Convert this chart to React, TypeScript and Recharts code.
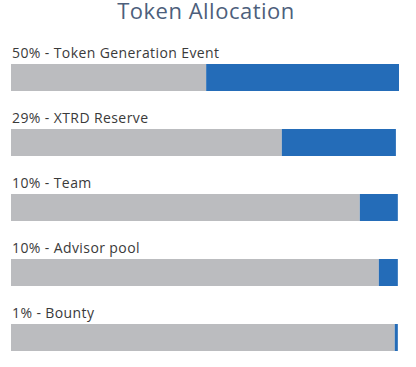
import { Bar, BarChart, LabelList, XAxis, YAxis } from "recharts";

const categories = ["Token Generation Event", "XTRD Reserve", "Team", "Advisor pool", "Bounty"];
const percentLabels = ["50%", "29%", "10%", "10%", "1%"];
// blue part as drawn, in % of the full track
const allocationShares = [49.7, 29.4, 9.8, 4.9, 0.8];
// the tracks do not all end at the same pixel
const trackTotals = [100, 99.2, 99.7, 99.7, 99.7];

const GRAY = "#bbbcbf";
const BLUE = "#246cb8";
const FONT = "'Open Sans', 'DejaVu Sans', sans-serif";

const data = categories.map((name, i) => ({
  name,
  label: `${percentLabels[i]} - ${name}`,
  share: allocationShares[i],
  rest: trackTotals[i] - allocationShares[i],
}));

function RowLabel(props: any) {
  const { x, y, value } = props;
  return (
    <text
      x={Number(x) + 1}
      y={Number(y) - 6}
      fill="#3a3a3a"
      fontSize={14}
      fontWeight={500}
      letterSpacing={0.4}
      fontFamily={FONT}
    >
      {value}
    </text>
  );
}

export default function App() {
  return (
    <div style={{ position: "absolute", left: 0, top: 0, width: 416, height: 367, background: "#fff" }}>
      <svg width={416} height={30} style={{ position: "absolute", left: 0, top: 0 }}>
        <text
          x={206}
          y={19}
          textAnchor="middle"
          fill="#4d5f7c"
          fontSize={22}
          letterSpacing={0.5}
          fontFamily={FONT}
        >
          Token Allocation
        </text>
      </svg>
      <BarChart
        width={416}
        height={367}
        data={data}
        layout="vertical"
        margin={{ top: 45, right: 17, bottom: -3, left: 11 }}
        barSize={27}
      >
        <XAxis type="number" domain={[0, 100]} hide />
        <YAxis type="category" dataKey="name" hide />
        <Bar dataKey="rest" stackId="a" fill={GRAY} isAnimationActive={false}>
          <LabelList dataKey="label" content={RowLabel} />
        </Bar>
        <Bar dataKey="share" stackId="a" fill={BLUE} isAnimationActive={false} />
      </BarChart>
    </div>
  );
}
